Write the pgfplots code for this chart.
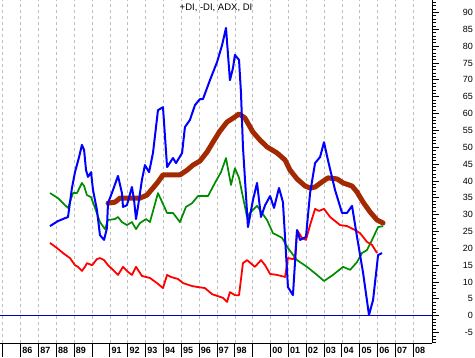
\documentclass[border=0pt]{standalone}
\usepackage{pgfplots}
\pgfplotsset{compat=1.18}
\usepackage{fontspec}
\setmainfont{Liberation Sans}
\definecolor{adxbrown}{RGB}{163,41,0}
\definecolor{digreen}{RGB}{0,140,0}
\definecolor{zeroblue}{RGB}{0,0,200}
\definecolor{gridgray}{RGB}{190,190,190}
\begin{document}
\begin{tikzpicture}
\useasboundingbox (0pt,-14pt) rectangle (475pt,343pt);
\begin{axis}[
  at={(0pt,0pt)}, anchor=south west,
  scale only axis, width=432pt, height=343pt,
  xmin=1984.84, xmax=2009.04, ymin=-8.1, ymax=93.7,
  hide y axis,
  axis x line*=bottom,
  x axis line style={-, black, line width=1pt},
  xtick={1985,...,2008},
  xticklabels={,86,87,88,89,,91,92,93,94,95,96,97,98,,00,01,02,03,04,05,06,07,08},
  xtick align=outside,
  major tick length=14pt,
  x tick style={black, line width=1pt},
  xticklabel style={anchor=north west, inner sep=0pt, xshift=1.5pt, yshift=9.5pt, font=\bfseries\fontsize{9}{9}\selectfont},
  xmajorgrids,
  major x grid style={gridgray, dash pattern=on 3pt off 3pt, line width=0.8pt},
  title={+DI, -DI, ADX, DI},
  title style={at={(0.5,1)}, anchor=north, yshift=-6pt, font=\fontsize{9.5}{9.5}\selectfont},
  line join=round,
]
\addplot[zeroblue, line width=1.2pt] coordinates {(1984.84,0) (2009.04,0)};
% ADX
\addplot[adxbrown, line width=5pt, line cap=round] coordinates {
(1990.89,33.4) (1991.28,33.7) (1991.56,34.9) (1992.68,34.9) (1993.07,35.8)
(1993.41,37.9) (1993.69,39.7) (1993.97,41.8) (1994.92,41.8) (1995.32,43.2)
(1995.65,44.7) (1996.04,45.9) (1996.44,48.6) (1996.77,51.5) (1997.16,54.8)
(1997.56,57.5) (1998.00,59.0) (1998.23,59.9) (1998.56,58.7) (1999.01,54.5)
(1999.41,52.1) (1999.80,50.1) (2000.36,48.3) (2000.81,46.2) (2001.09,43.2)
(2001.48,40.6) (2001.93,38.5) (2002.21,37.9) (2002.49,38.2) (2002.88,39.7)
(2003.21,40.9) (2003.72,40.6) (2004.06,39.4) (2004.56,38.5) (2004.84,36.7)
(2005.18,33.7) (2005.57,30.8) (2005.96,28.4) (2006.30,27.5)};
% +DI green
\addplot[digreen, line width=1.7pt] coordinates {
(1987.64,36.4) (1988.09,34.9) (1988.48,32.8) (1988.65,32.0) (1988.93,36.4)
(1989.15,36.4) (1989.43,39.4) (1989.55,38.5) (1989.71,35.8) (1989.94,35.2)
(1990.16,32.0) (1990.44,27.8) (1990.72,25.7) (1990.89,28.4) (1991.28,28.7)
(1991.45,29.3) (1991.67,27.8) (1991.95,26.9) (1992.23,27.8) (1992.46,25.7)
(1992.68,27.5) (1993.02,28.7) (1993.24,27.8) (1993.69,36.4) (1994.20,30.5)
(1994.53,30.5) (1994.92,27.8) (1995.26,32.3) (1995.60,33.4) (1995.93,35.5)
(1996.49,35.5) (1996.88,39.4) (1997.22,42.6) (1997.50,46.8) (1997.78,38.8)
(1998.00,43.8) (1998.23,40.9) (1998.45,35.2) (1998.68,29.3) (1998.84,30.5)
(1999.24,32.6) (1999.52,30.5) (1999.80,28.4) (2000.13,24.5) (2000.36,23.9)
(2000.64,23.1) (2000.97,20.1) (2001.48,16.5) (2002.04,14.5) (2002.60,12.1)
(2002.99,10.3) (2003.49,12.1) (2004.06,14.5) (2004.45,13.6) (2004.84,15.9)
(2005.12,18.6) (2005.40,19.5) (2005.68,22.5) (2006.02,26.3) (2006.30,26.6)};
% -DI red
\addplot[red, line width=1.8pt] coordinates {
(1987.64,21.6) (1988.03,20.1) (1988.37,18.6) (1988.76,17.1) (1989.04,15.0)
(1989.21,14.5) (1989.43,13.3) (1989.60,14.5) (1989.71,15.6) (1990.00,15.0)
(1990.27,16.8) (1990.44,17.1) (1990.67,16.5) (1990.89,15.0) (1991.17,13.6)
(1991.45,12.1) (1991.73,14.5) (1992.01,13.0) (1992.23,12.1) (1992.46,14.5)
(1992.79,11.8) (1993.24,11.2) (1993.63,9.7) (1993.97,8.2) (1994.20,12.1)
(1994.42,11.5) (1994.81,10.9) (1995.09,9.7) (1995.60,8.8) (1995.93,8.5)
(1996.32,8.2) (1996.72,6.4) (1997.05,5.8) (1997.33,5.3) (1997.56,4.1)
(1997.72,7.0) (1998.00,6.1) (1998.23,6.1) (1998.45,15.6) (1998.68,16.5)
(1999.12,14.5) (1999.46,16.5) (1999.69,15.0) (1999.97,12.4) (2000.36,12.1)
(2000.81,11.5) (2000.97,17.1) (2001.25,16.8) (2001.37,17.4) (2001.48,25.4)
(2001.76,23.1) (2001.98,22.5) (2002.21,26.9) (2002.49,31.7) (2002.71,31.1)
(2002.99,31.7) (2003.33,29.3) (2003.89,26.9) (2004.28,26.6) (2004.73,25.4)
(2005.01,24.5) (2005.40,21.9) (2005.68,21.0) (2005.96,18.6)};
% DI blue
\addplot[blue, line width=2pt] coordinates {
(1987.64,26.6) (1988.09,28.1) (1988.65,29.3) (1988.87,37.9) (1989.04,42.6)
(1989.27,47.1) (1989.43,50.7) (1989.55,49.2) (1989.66,43.2) (1989.77,41.2)
(1989.94,42.6) (1990.05,37.3) (1990.27,31.4) (1990.44,23.9) (1990.67,22.5)
(1990.83,26.0) (1990.89,33.4) (1991.17,37.3) (1991.45,41.5) (1991.67,36.4)
(1991.73,32.3) (1991.95,32.8) (1992.23,38.2) (1992.35,34.3) (1992.46,28.7)
(1992.57,32.3) (1992.79,40.3) (1992.96,44.7) (1993.19,42.6) (1993.41,48.3)
(1993.69,61.0) (1993.97,61.9) (1994.20,44.1) (1994.53,46.8) (1994.70,45.3)
(1995.04,48.3) (1995.20,56.0) (1995.48,58.1) (1995.76,62.5) (1996.04,64.3)
(1996.21,64.3) (1996.60,69.9) (1997.00,75.3) (1997.28,80.3) (1997.50,85.4)
(1997.72,69.9) (1997.89,73.5) (1998.00,77.4) (1998.23,75.9) (1998.34,66.1)
(1998.45,50.1) (1998.73,26.3) (1999.01,34.3) (1999.24,39.4) (1999.46,29.3)
(1999.69,32.8) (1999.97,35.5) (2000.19,32.0) (2000.47,37.9) (2000.69,33.7)
(2000.86,18.6) (2000.97,8.5) (2001.25,6.1) (2001.48,25.4) (2001.65,22.5)
(2001.98,23.4) (2002.21,36.4) (2002.49,45.3) (2002.77,47.1) (2002.99,51.5)
(2003.21,46.2) (2003.61,37.3) (2004.00,30.5) (2004.28,30.5) (2004.56,32.6)
(2004.84,23.4) (2005.18,12.7) (2005.51,0.2) (2005.74,4.7) (2006.02,18.0)
(2006.24,18.6)};
\end{axis}
\begin{axis}[
  at={(0pt,0pt)}, anchor=south west,
  scale only axis, width=432pt, height=343pt,
  xmin=1984.84, xmax=2009.04, ymin=-8.1, ymax=93.7,
  hide x axis,
  axis y line*=right,
  y axis line style={-, black, line width=1pt},
  ytick={-10,-5,...,95},
  minor y tick num=4,
  ytick align=outside,
  major tick length=7pt, minor tick length=4pt,
  y tick style={black, line width=0.8pt},
  yticklabel style={anchor=east, inner sep=0pt, xshift=34pt, font=\fontsize{9}{9}\selectfont},
  /pgf/number format/assume math mode=true,
]
\addplot[draw=none] coordinates {(1990,0)};
\end{axis}
\end{tikzpicture}
\end{document}
